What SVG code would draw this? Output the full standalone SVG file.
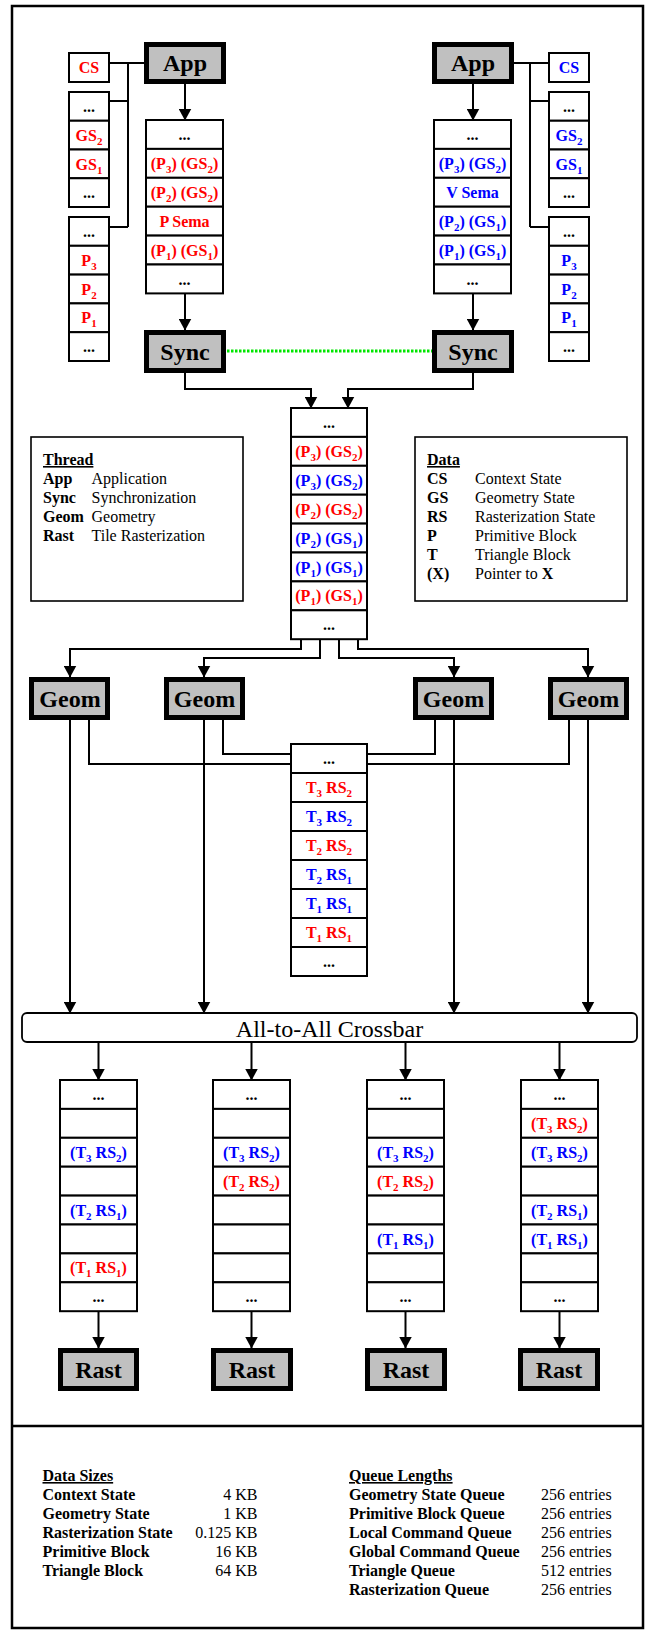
<svg xmlns="http://www.w3.org/2000/svg" width="646" height="1631" viewBox="0 0 646 1631">
<style>
.q{fill:#fff;stroke:#000;stroke-width:2}
.th{fill:#c0c0c0;stroke:#000;stroke-width:5}
text{font-family:"Liberation Serif","Times New Roman",serif}
.t{font-weight:bold;font-size:16px;text-anchor:middle}
.big{font-size:24px}
.r{fill:#f00}.b{fill:#00f}
.s{font-size:11px}
.ln{fill:none;stroke:#000;stroke-width:2}
.ar{marker-end:url(#ah)}
.lg{font-size:16px}
.k{font-weight:bold}
.u{text-decoration:underline;font-weight:bold}
</style>
<defs>
<marker id="ah" viewBox="0 0 12 13" refX="11.5" refY="6.5" markerWidth="12" markerHeight="13" markerUnits="userSpaceOnUse" orient="auto"><path d="M0,0 L12,6.5 L0,13 z" fill="#000"/></marker>
</defs>
<rect x="0" y="0" width="646" height="1631" fill="#fff"/>
<g id="frame" fill="none" stroke="#000" stroke-width="2.5">
<rect x="12" y="6" width="631" height="1622"/>
<path d="M12,1426 H643"/>
</g>

<g id="connectors">
<path class="ln" d="M109,63 H144 M128,63 V227 M109,101 H128 M109,227 H128"/>
<path class="ln" d="M514,63 H549 M530,63 V227 M530,101 H549 M530,227 H549"/>
<path class="ln ar" d="M185,84 V120"/>
<path class="ln ar" d="M185,293.4 V330"/>
<path class="ln ar" d="M473,84 V120"/>
<path class="ln ar" d="M473,293.4 V330"/>
<path d="M227,351 H432" fill="none" stroke="#00e600" stroke-width="3" stroke-dasharray="2.5 1.5"/>
<path class="ln ar" d="M185,373 V389 H311 V408"/>
<path class="ln ar" d="M473,373 V389 H348 V408"/>
<path class="ln ar" d="M301,639.2 V649 H70 V677"/>
<path class="ln ar" d="M320,639.2 V658 H204 V677"/>
<path class="ln ar" d="M339,639.2 V658 H454 V677"/>
<path class="ln ar" d="M358,639.2 V649 H588 V677"/>
<path class="ln ar" d="M70,720 V1013"/>
<path class="ln ar" d="M204,720 V1013"/>
<path class="ln ar" d="M454,720 V1013"/>
<path class="ln ar" d="M588,720 V1013"/>
<path class="ln" d="M89,720 V764 H291"/>
<path class="ln" d="M223,720 V754 H291"/>
<path class="ln" d="M435,720 V754 H367"/>
<path class="ln" d="M569,720 V764 H367"/>
<path class="ln ar" d="M98.5,1042 V1080"/>
<path class="ln ar" d="M251.5,1042 V1080"/>
<path class="ln ar" d="M405.5,1042 V1080"/>
<path class="ln ar" d="M559.5,1042 V1080"/>
<path class="ln ar" d="M98.5,1311.2 V1348"/>
<path class="ln ar" d="M251.5,1311.2 V1348"/>
<path class="ln ar" d="M405.5,1311.2 V1348"/>
<path class="ln ar" d="M559.5,1311.2 V1348"/>
</g>

<g id="app-left"><rect class="th" x="146.5" y="44.5" width="77" height="37"/><text class="t big" x="185" y="71">App</text></g>
<g id="app-right"><rect class="th" x="434.5" y="44.5" width="77" height="37"/><text class="t big" x="473" y="71">App</text></g>
<g id="sync-left"><rect class="th" x="146.5" y="332.5" width="77" height="38"/><text class="t big" x="185" y="360">Sync</text></g>
<g id="sync-right"><rect class="th" x="434.5" y="332.5" width="77" height="38"/><text class="t big" x="473" y="360">Sync</text></g>

<g id="cs-left"><rect class="q" x="69" y="53" width="40" height="29"/><text class="t r" x="89" y="73">CS</text></g>
<g id="cs-right"><rect class="q" x="549" y="53" width="40" height="29"/><text class="t b" x="569" y="73">CS</text></g>

<g id="gs-queue-left">
<rect class="q" x="69" y="92" width="40" height="28.75"/>
<rect class="q" x="69" y="120.75" width="40" height="28.75"/>
<rect class="q" x="69" y="149.5" width="40" height="28.75"/>
<rect class="q" x="69" y="178.25" width="40" height="28.75"/>
<text class="t" x="89" y="112">...</text>
<text class="t r" x="89" y="140.75">GS<tspan class="s" dy="4">2</tspan></text>
<text class="t r" x="89" y="169.5">GS<tspan class="s" dy="4">1</tspan></text>
<text class="t" x="89" y="198.25">...</text>
</g>
<g id="gs-queue-right">
<rect class="q" x="549" y="92" width="40" height="28.75"/>
<rect class="q" x="549" y="120.75" width="40" height="28.75"/>
<rect class="q" x="549" y="149.5" width="40" height="28.75"/>
<rect class="q" x="549" y="178.25" width="40" height="28.75"/>
<text class="t" x="569" y="112">...</text>
<text class="t b" x="569" y="140.75">GS<tspan class="s" dy="4">2</tspan></text>
<text class="t b" x="569" y="169.5">GS<tspan class="s" dy="4">1</tspan></text>
<text class="t" x="569" y="198.25">...</text>
</g>

<g id="p-queue-left">
<rect class="q" x="69" y="217" width="40" height="28.8"/>
<rect class="q" x="69" y="245.8" width="40" height="28.8"/>
<rect class="q" x="69" y="274.6" width="40" height="28.8"/>
<rect class="q" x="69" y="303.4" width="40" height="28.8"/>
<rect class="q" x="69" y="332.2" width="40" height="28.8"/>
<text class="t" x="89" y="237">...</text>
<text class="t r" x="89" y="265.8">P<tspan class="s" dy="4">3</tspan></text>
<text class="t r" x="89" y="294.6">P<tspan class="s" dy="4">2</tspan></text>
<text class="t r" x="89" y="323.4">P<tspan class="s" dy="4">1</tspan></text>
<text class="t" x="89" y="352.2">...</text>
</g>
<g id="p-queue-right">
<rect class="q" x="549" y="217" width="40" height="28.8"/>
<rect class="q" x="549" y="245.8" width="40" height="28.8"/>
<rect class="q" x="549" y="274.6" width="40" height="28.8"/>
<rect class="q" x="549" y="303.4" width="40" height="28.8"/>
<rect class="q" x="549" y="332.2" width="40" height="28.8"/>
<text class="t" x="569" y="237">...</text>
<text class="t b" x="569" y="265.8">P<tspan class="s" dy="4">3</tspan></text>
<text class="t b" x="569" y="294.6">P<tspan class="s" dy="4">2</tspan></text>
<text class="t b" x="569" y="323.4">P<tspan class="s" dy="4">1</tspan></text>
<text class="t" x="569" y="352.2">...</text>
</g>

<g id="cmd-queue-left">
<rect class="q" x="146" y="120" width="77" height="28.9"/>
<rect class="q" x="146" y="148.9" width="77" height="28.9"/>
<rect class="q" x="146" y="177.8" width="77" height="28.9"/>
<rect class="q" x="146" y="206.7" width="77" height="28.9"/>
<rect class="q" x="146" y="235.6" width="77" height="28.9"/>
<rect class="q" x="146" y="264.5" width="77" height="28.9"/>
<text class="t" x="184.5" y="140">...</text>
<text class="t r" x="184.5" y="168.9">(P<tspan class="s" dy="4">3</tspan><tspan dy="-4">) (GS</tspan><tspan class="s" dy="4">2</tspan><tspan dy="-4">)</tspan></text>
<text class="t r" x="184.5" y="197.8">(P<tspan class="s" dy="4">2</tspan><tspan dy="-4">) (GS</tspan><tspan class="s" dy="4">2</tspan><tspan dy="-4">)</tspan></text>
<text class="t r" x="184.5" y="226.7">P Sema</text>
<text class="t r" x="184.5" y="255.6">(P<tspan class="s" dy="4">1</tspan><tspan dy="-4">) (GS</tspan><tspan class="s" dy="4">1</tspan><tspan dy="-4">)</tspan></text>
<text class="t" x="184.5" y="284.5">...</text>
</g>
<g id="cmd-queue-right">
<rect class="q" x="434" y="120" width="77" height="28.9"/>
<rect class="q" x="434" y="148.9" width="77" height="28.9"/>
<rect class="q" x="434" y="177.8" width="77" height="28.9"/>
<rect class="q" x="434" y="206.7" width="77" height="28.9"/>
<rect class="q" x="434" y="235.6" width="77" height="28.9"/>
<rect class="q" x="434" y="264.5" width="77" height="28.9"/>
<text class="t" x="472.5" y="140">...</text>
<text class="t b" x="472.5" y="168.9">(P<tspan class="s" dy="4">3</tspan><tspan dy="-4">) (GS</tspan><tspan class="s" dy="4">2</tspan><tspan dy="-4">)</tspan></text>
<text class="t b" x="472.5" y="197.8">V Sema</text>
<text class="t b" x="472.5" y="226.7">(P<tspan class="s" dy="4">2</tspan><tspan dy="-4">) (GS</tspan><tspan class="s" dy="4">1</tspan><tspan dy="-4">)</tspan></text>
<text class="t b" x="472.5" y="255.6">(P<tspan class="s" dy="4">1</tspan><tspan dy="-4">) (GS</tspan><tspan class="s" dy="4">1</tspan><tspan dy="-4">)</tspan></text>
<text class="t" x="472.5" y="284.5">...</text>
</g>

<g id="global-queue">
<rect class="q" x="291" y="408" width="76" height="28.9"/>
<rect class="q" x="291" y="436.9" width="76" height="28.9"/>
<rect class="q" x="291" y="465.8" width="76" height="28.9"/>
<rect class="q" x="291" y="494.7" width="76" height="28.9"/>
<rect class="q" x="291" y="523.6" width="76" height="28.9"/>
<rect class="q" x="291" y="552.5" width="76" height="28.9"/>
<rect class="q" x="291" y="581.4" width="76" height="28.9"/>
<rect class="q" x="291" y="610.3" width="76" height="28.9"/>
<text class="t" x="329" y="428">...</text>
<text class="t r" x="329" y="456.9">(P<tspan class="s" dy="4">3</tspan><tspan dy="-4">) (GS</tspan><tspan class="s" dy="4">2</tspan><tspan dy="-4">)</tspan></text>
<text class="t b" x="329" y="485.8">(P<tspan class="s" dy="4">3</tspan><tspan dy="-4">) (GS</tspan><tspan class="s" dy="4">2</tspan><tspan dy="-4">)</tspan></text>
<text class="t r" x="329" y="514.7">(P<tspan class="s" dy="4">2</tspan><tspan dy="-4">) (GS</tspan><tspan class="s" dy="4">2</tspan><tspan dy="-4">)</tspan></text>
<text class="t b" x="329" y="543.6">(P<tspan class="s" dy="4">2</tspan><tspan dy="-4">) (GS</tspan><tspan class="s" dy="4">1</tspan><tspan dy="-4">)</tspan></text>
<text class="t b" x="329" y="572.5">(P<tspan class="s" dy="4">1</tspan><tspan dy="-4">) (GS</tspan><tspan class="s" dy="4">1</tspan><tspan dy="-4">)</tspan></text>
<text class="t r" x="329" y="601.4">(P<tspan class="s" dy="4">1</tspan><tspan dy="-4">) (GS</tspan><tspan class="s" dy="4">1</tspan><tspan dy="-4">)</tspan></text>
<text class="t" x="329" y="630.3">...</text>
</g>

<g id="legend-thread">
<rect x="31" y="437" width="212" height="164" fill="#fff" stroke="#000" stroke-width="1.6"/>
<text class="lg u" x="43" y="465">Thread</text>
<text class="lg k" x="43" y="484">App</text><text class="lg" x="91.5" y="484">Application</text>
<text class="lg k" x="43" y="503">Sync</text><text class="lg" x="91.5" y="503">Synchronization</text>
<text class="lg k" x="43" y="522">Geom</text><text class="lg" x="91.5" y="522">Geometry</text>
<text class="lg k" x="43" y="541">Rast</text><text class="lg" x="91.5" y="541">Tile Rasterization</text>
</g>
<g id="legend-data">
<rect x="415" y="437" width="212" height="164" fill="#fff" stroke="#000" stroke-width="1.6"/>
<text class="lg u" x="427" y="465">Data</text>
<text class="lg k" x="427" y="484">CS</text><text class="lg" x="475" y="484">Context State</text>
<text class="lg k" x="427" y="503">GS</text><text class="lg" x="475" y="503">Geometry State</text>
<text class="lg k" x="427" y="522">RS</text><text class="lg" x="475" y="522">Rasterization State</text>
<text class="lg k" x="427" y="541">P</text><text class="lg" x="475" y="541">Primitive Block</text>
<text class="lg k" x="427" y="560">T</text><text class="lg" x="475" y="560">Triangle Block</text>
<text class="lg k" x="427" y="579">(X)</text><text class="lg" x="475" y="579">Pointer to <tspan font-weight="bold">X</tspan></text>
</g>

<g id="geom-1"><rect class="th" x="31.5" y="679.5" width="76" height="38"/><text class="t big" x="70" y="707">Geom</text></g>
<g id="geom-2"><rect class="th" x="166.5" y="679.5" width="76" height="38"/><text class="t big" x="204.5" y="707">Geom</text></g>
<g id="geom-3"><rect class="th" x="415.5" y="679.5" width="76" height="38"/><text class="t big" x="453.5" y="707">Geom</text></g>
<g id="geom-4"><rect class="th" x="550.5" y="679.5" width="76" height="38"/><text class="t big" x="588.5" y="707">Geom</text></g>

<g id="triangle-queue">
<rect class="q" x="291" y="744" width="76" height="29"/>
<rect class="q" x="291" y="773" width="76" height="29"/>
<rect class="q" x="291" y="802" width="76" height="29"/>
<rect class="q" x="291" y="831" width="76" height="29"/>
<rect class="q" x="291" y="860" width="76" height="29"/>
<rect class="q" x="291" y="889" width="76" height="29"/>
<rect class="q" x="291" y="918" width="76" height="29"/>
<rect class="q" x="291" y="947" width="76" height="29"/>
<text class="t" x="329" y="764">...</text>
<text class="t r" x="329" y="793">T<tspan class="s" dy="4">3</tspan><tspan dy="-4"> RS</tspan><tspan class="s" dy="4">2</tspan></text>
<text class="t b" x="329" y="822">T<tspan class="s" dy="4">3</tspan><tspan dy="-4"> RS</tspan><tspan class="s" dy="4">2</tspan></text>
<text class="t r" x="329" y="851">T<tspan class="s" dy="4">2</tspan><tspan dy="-4"> RS</tspan><tspan class="s" dy="4">2</tspan></text>
<text class="t b" x="329" y="880">T<tspan class="s" dy="4">2</tspan><tspan dy="-4"> RS</tspan><tspan class="s" dy="4">1</tspan></text>
<text class="t b" x="329" y="909">T<tspan class="s" dy="4">1</tspan><tspan dy="-4"> RS</tspan><tspan class="s" dy="4">1</tspan></text>
<text class="t r" x="329" y="938">T<tspan class="s" dy="4">1</tspan><tspan dy="-4"> RS</tspan><tspan class="s" dy="4">1</tspan></text>
<text class="t" x="329" y="967">...</text>
</g>

<g id="crossbar">
<rect x="22" y="1013" width="615" height="29" rx="5" ry="5" fill="#fff" stroke="#000" stroke-width="1.8"/>
<text x="329.5" y="1036.5" font-size="24" text-anchor="middle">All-to-All Crossbar</text>
</g>

<g id="rast-queue-1">
<rect class="q" x="60" y="1080" width="77" height="28.9"/>
<rect class="q" x="60" y="1108.9" width="77" height="28.9"/>
<rect class="q" x="60" y="1137.8" width="77" height="28.9"/>
<rect class="q" x="60" y="1166.7" width="77" height="28.9"/>
<rect class="q" x="60" y="1195.6" width="77" height="28.9"/>
<rect class="q" x="60" y="1224.5" width="77" height="28.9"/>
<rect class="q" x="60" y="1253.4" width="77" height="28.9"/>
<rect class="q" x="60" y="1282.3" width="77" height="28.9"/>
<text class="t" x="98.5" y="1100">...</text>
<text class="t b" x="98.5" y="1157.8">(T<tspan class="s" dy="4">3</tspan><tspan dy="-4"> RS</tspan><tspan class="s" dy="4">2</tspan><tspan dy="-4">)</tspan></text>
<text class="t b" x="98.5" y="1215.6">(T<tspan class="s" dy="4">2</tspan><tspan dy="-4"> RS</tspan><tspan class="s" dy="4">1</tspan><tspan dy="-4">)</tspan></text>
<text class="t r" x="98.5" y="1273.4">(T<tspan class="s" dy="4">1</tspan><tspan dy="-4"> RS</tspan><tspan class="s" dy="4">1</tspan><tspan dy="-4">)</tspan></text>
<text class="t" x="98.5" y="1302.3">...</text>
</g>
<g id="rast-queue-2">
<rect class="q" x="213" y="1080" width="77" height="28.9"/>
<rect class="q" x="213" y="1108.9" width="77" height="28.9"/>
<rect class="q" x="213" y="1137.8" width="77" height="28.9"/>
<rect class="q" x="213" y="1166.7" width="77" height="28.9"/>
<rect class="q" x="213" y="1195.6" width="77" height="28.9"/>
<rect class="q" x="213" y="1224.5" width="77" height="28.9"/>
<rect class="q" x="213" y="1253.4" width="77" height="28.9"/>
<rect class="q" x="213" y="1282.3" width="77" height="28.9"/>
<text class="t" x="251.5" y="1100">...</text>
<text class="t b" x="251.5" y="1157.8">(T<tspan class="s" dy="4">3</tspan><tspan dy="-4"> RS</tspan><tspan class="s" dy="4">2</tspan><tspan dy="-4">)</tspan></text>
<text class="t r" x="251.5" y="1186.7">(T<tspan class="s" dy="4">2</tspan><tspan dy="-4"> RS</tspan><tspan class="s" dy="4">2</tspan><tspan dy="-4">)</tspan></text>
<text class="t" x="251.5" y="1302.3">...</text>
</g>
<g id="rast-queue-3">
<rect class="q" x="367" y="1080" width="77" height="28.9"/>
<rect class="q" x="367" y="1108.9" width="77" height="28.9"/>
<rect class="q" x="367" y="1137.8" width="77" height="28.9"/>
<rect class="q" x="367" y="1166.7" width="77" height="28.9"/>
<rect class="q" x="367" y="1195.6" width="77" height="28.9"/>
<rect class="q" x="367" y="1224.5" width="77" height="28.9"/>
<rect class="q" x="367" y="1253.4" width="77" height="28.9"/>
<rect class="q" x="367" y="1282.3" width="77" height="28.9"/>
<text class="t" x="405.5" y="1100">...</text>
<text class="t b" x="405.5" y="1157.8">(T<tspan class="s" dy="4">3</tspan><tspan dy="-4"> RS</tspan><tspan class="s" dy="4">2</tspan><tspan dy="-4">)</tspan></text>
<text class="t r" x="405.5" y="1186.7">(T<tspan class="s" dy="4">2</tspan><tspan dy="-4"> RS</tspan><tspan class="s" dy="4">2</tspan><tspan dy="-4">)</tspan></text>
<text class="t b" x="405.5" y="1244.5">(T<tspan class="s" dy="4">1</tspan><tspan dy="-4"> RS</tspan><tspan class="s" dy="4">1</tspan><tspan dy="-4">)</tspan></text>
<text class="t" x="405.5" y="1302.3">...</text>
</g>
<g id="rast-queue-4">
<rect class="q" x="521" y="1080" width="77" height="28.9"/>
<rect class="q" x="521" y="1108.9" width="77" height="28.9"/>
<rect class="q" x="521" y="1137.8" width="77" height="28.9"/>
<rect class="q" x="521" y="1166.7" width="77" height="28.9"/>
<rect class="q" x="521" y="1195.6" width="77" height="28.9"/>
<rect class="q" x="521" y="1224.5" width="77" height="28.9"/>
<rect class="q" x="521" y="1253.4" width="77" height="28.9"/>
<rect class="q" x="521" y="1282.3" width="77" height="28.9"/>
<text class="t" x="559.5" y="1100">...</text>
<text class="t r" x="559.5" y="1128.9">(T<tspan class="s" dy="4">3</tspan><tspan dy="-4"> RS</tspan><tspan class="s" dy="4">2</tspan><tspan dy="-4">)</tspan></text>
<text class="t b" x="559.5" y="1157.8">(T<tspan class="s" dy="4">3</tspan><tspan dy="-4"> RS</tspan><tspan class="s" dy="4">2</tspan><tspan dy="-4">)</tspan></text>
<text class="t b" x="559.5" y="1215.6">(T<tspan class="s" dy="4">2</tspan><tspan dy="-4"> RS</tspan><tspan class="s" dy="4">1</tspan><tspan dy="-4">)</tspan></text>
<text class="t b" x="559.5" y="1244.5">(T<tspan class="s" dy="4">1</tspan><tspan dy="-4"> RS</tspan><tspan class="s" dy="4">1</tspan><tspan dy="-4">)</tspan></text>
<text class="t" x="559.5" y="1302.3">...</text>
</g>

<g id="rast-1"><rect class="th" x="60.5" y="1350.5" width="76" height="38"/><text class="t big" x="98.5" y="1378">Rast</text></g>
<g id="rast-2"><rect class="th" x="213.5" y="1350.5" width="77" height="38"/><text class="t big" x="252" y="1378">Rast</text></g>
<g id="rast-3"><rect class="th" x="367.5" y="1350.5" width="77" height="38"/><text class="t big" x="406" y="1378">Rast</text></g>
<g id="rast-4"><rect class="th" x="520.5" y="1350.5" width="77" height="38"/><text class="t big" x="559" y="1378">Rast</text></g>

<g id="data-sizes">
<text class="lg u" x="42.5" y="1481">Data Sizes</text>
<text class="lg k" x="42.5" y="1500">Context State</text><text class="lg" x="257.5" y="1500" text-anchor="end">4 KB</text>
<text class="lg k" x="42.5" y="1519">Geometry State</text><text class="lg" x="257.5" y="1519" text-anchor="end">1 KB</text>
<text class="lg k" x="42.5" y="1538">Rasterization State</text><text class="lg" x="257.5" y="1538" text-anchor="end">0.125 KB</text>
<text class="lg k" x="42.5" y="1557">Primitive Block</text><text class="lg" x="257.5" y="1557" text-anchor="end">16 KB</text>
<text class="lg k" x="42.5" y="1576">Triangle Block</text><text class="lg" x="257.5" y="1576" text-anchor="end">64 KB</text>
</g>
<g id="queue-lengths">
<text class="lg u" x="349" y="1481">Queue Lengths</text>
<text class="lg k" x="349" y="1500">Geometry State Queue</text><text class="lg" x="541" y="1500">256 entries</text>
<text class="lg k" x="349" y="1519">Primitive Block Queue</text><text class="lg" x="541" y="1519">256 entries</text>
<text class="lg k" x="349" y="1538">Local Command Queue</text><text class="lg" x="541" y="1538">256 entries</text>
<text class="lg k" x="349" y="1557">Global Command Queue</text><text class="lg" x="541" y="1557">256 entries</text>
<text class="lg k" x="349" y="1576">Triangle Queue</text><text class="lg" x="541" y="1576">512 entries</text>
<text class="lg k" x="349" y="1595">Rasterization Queue</text><text class="lg" x="541" y="1595">256 entries</text>
</g>
</svg>
